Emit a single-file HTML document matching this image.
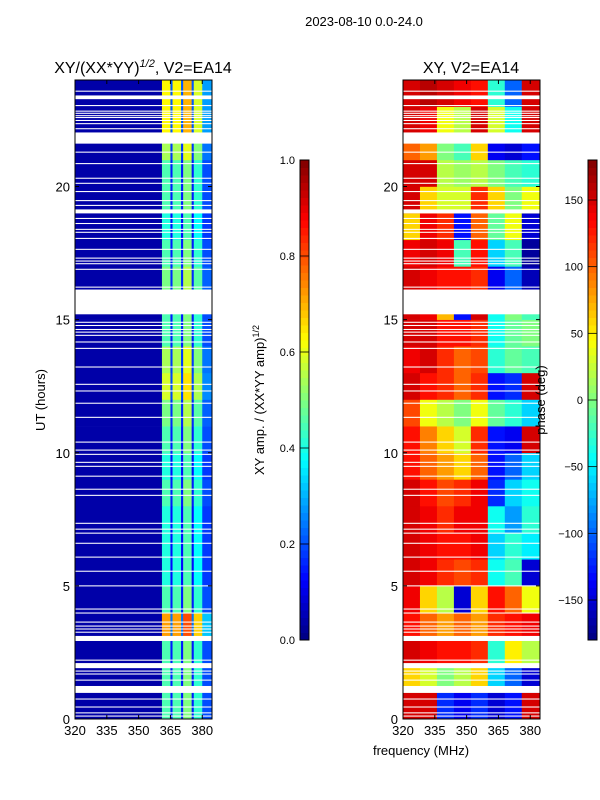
<!DOCTYPE html>
<html><head><meta charset="utf-8"><style>
body{margin:0;background:#fff}
svg{display:block;font-family:"Liberation Sans","DejaVu Sans",sans-serif}
</style></head><body>
<svg id="fig" width="600" height="800" viewBox="0 0 600 800">
<text x="364" y="26" font-size="13" text-anchor="middle">2023-08-10 0.0-24.0</text>
<text x="143" y="73" font-size="16" text-anchor="middle">XY/(XX*YY)<tspan dy="-6" font-size="11" font-style="italic">1/2</tspan><tspan dy="6">, V2=EA14</tspan></text>
<text x="471" y="73" font-size="16" text-anchor="middle">XY, V2=EA14</text>
<text transform="translate(45,400) rotate(-90)" font-size="13" text-anchor="middle">UT (hours)</text>
<text x="421" y="755" font-size="13" text-anchor="middle">frequency (MHz)</text>
<text transform="translate(264,400) rotate(-90)" font-size="13" text-anchor="middle">XY amp. / (XX*YY amp)<tspan dy="-5" font-size="9">1/2</tspan></text>
<g id="left"></g>
<g id="right"></g>
<g id="cb1"></g>
<g id="cb2"></g>
<text transform="translate(545,400) rotate(-90)" font-size="13" text-anchor="middle">phase (deg)</text>
</svg>
<script>
// ---- data ----
const freqTicks=[320,335,350,365,380];
const timeTicks=[0,5,10,15,20];
const ampTicks=[0.0,0.2,0.4,0.6,0.8,1.0];
const phaseTicks=[-150,-100,-50,0,50,100,150];
// amplitude bands [startMHz, endMHz, value]
const ampBands=[[320,361,0.04],[361,365,0.45],[365,366,0.15],[366,370,0.45],[370,371,0.15],[371,375,0.5],[375,376,0.15],[376,380,0.42],[380,385,0.2]];
// hourly gain on band amplitudes
const ampRowGain=[1.0,1.0,1.0,1.6,1.0,0.9,0.9,0.9,1.0,0.9,1.0,1.1,1.3,1.2,1.0,1.0,1.1,1.0,0.9,1.0,1.0,1.2,1.4,1.4];
// phase grid: 24 hours x 8 frequency columns (deg)
const phaseCols=[320,328,336,344,352,360,368,376,384.6];
const phaseVals=[
[150,150,-120,-140,-120,-150,-130,150],
[60,30,0,20,60,-60,-100,-150],
[150,140,130,130,120,-30,50,20],
[130,100,80,100,80,120,130,140],
[140,60,20,-150,60,130,100,40],
[150,140,120,110,120,-40,-20,-150],
[150,140,130,130,140,-60,-30,-50],
[150,140,120,140,140,-40,-80,-30],
[150,130,110,120,140,-120,-60,-40],
[130,100,80,60,100,-130,-100,-60],
[130,90,60,30,120,-130,-140,150],
[110,40,20,0,40,-10,-30,-60],
[150,130,120,100,120,-130,-120,150],
[140,150,120,100,110,-30,-10,-20],
[150,150,130,130,120,-40,-10,0],
[150,140,70,-130,150,-40,0,-20],
[150,140,130,130,120,-140,-100,-160],
[140,150,140,-20,130,-60,-20,-170],
[60,140,120,-130,100,-10,40,-150],
[150,60,30,30,120,60,0,40],
[150,150,20,10,20,0,-20,-30],
[100,80,0,-20,60,-140,-150,-130],
[150,140,40,20,150,30,-40,150],
[150,160,150,140,130,-30,-100,150]];
// blank (flagged) time intervals [startHr,endHr]
const gaps=[[0.09,0.13],[0.21,0.25],[0.43,0.47],[0.73,0.77],[0.98,1.24],[1.44,1.48],[1.67,1.71],[1.78,1.82],[1.91,2.1],[2.19,2.23],[2.93,3.12],[3.24,3.28],[3.36,3.4],[3.47,3.51],[3.62,3.66],[3.96,4.0],[4.11,4.15],[4.98,5.02],[5.53,5.57],[6.06,6.1],[6.58,6.62],[6.96,7.0],[7.11,7.15],[7.33,7.37],[8.38,8.42],[8.61,8.65],[9.1,9.14],[9.47,9.51],[9.62,9.66],[9.92,9.96],[10.08,10.12],[10.38,10.42],[11.31,11.35],[11.84,11.88],[12.3,12.34],[12.55,12.59],[13.2,13.24],[13.9,13.94],[14.14,14.18],[14.39,14.43],[14.51,14.55],[14.61,14.65],[14.76,14.8],[14.88,14.92],[15.2,16.13],[16.2,16.24],[16.87,16.91],[17.08,17.12],[17.18,17.22],[17.29,17.33],[17.62,17.66],[18.03,18.07],[18.26,18.3],[18.37,18.41],[18.59,18.63],[18.78,18.82],[18.99,19.14],[19.27,19.31],[19.45,19.49],[19.79,19.83],[20.1,20.14],[20.29,20.33],[20.84,20.88],[21.27,21.31],[21.61,22.03],[22.15,22.19],[22.34,22.38],[22.46,22.5],[22.57,22.61],[22.64,22.68],[22.73,22.77],[22.81,22.85],[23.02,23.06],[23.28,23.42],[23.56,23.6]];
// ---- helpers ----
const NS='http://www.w3.org/2000/svg';
function el(t,a,p){const e=document.createElementNS(NS,t);for(const k in a)e.setAttribute(k,a[k]);p.appendChild(e);return e;}
function jet(v){v=Math.max(0,Math.min(1,v));
 const r=Math.max(0,Math.min(1,1.5-Math.abs(4*v-3))),g=Math.max(0,Math.min(1,1.5-Math.abs(4*v-2))),b=Math.max(0,Math.min(1,1.5-Math.abs(4*v-1)));
 return `rgb(${Math.round(r*255)},${Math.round(g*255)},${Math.round(b*255)})`;}
const F0=320,F1=384.6,T0=0,T1=24,TOP=80,BOT=719;
function yT(t){return BOT-(t-T0)/(T1-T0)*(BOT-TOP);}
function makeX(L,R){return f=>L+(f-F0)/(F1-F0)*(R-L);}
function panel(g,L,R,fill){
 const x=makeX(L,R);
 fill(x);
 gaps.forEach(gp=>{const r=el('rect',{x:L,y:yT(gp[1]),width:R-L,height:yT(gp[0])-yT(gp[1]),fill:'#fff'},g);
  
  });
 el('rect',{x:L,y:TOP,width:R-L,height:BOT-TOP,fill:'none',stroke:'#000','stroke-width':1},g);
 freqTicks.forEach(f=>{const xx=x(f);
  el('line',{x1:xx,x2:xx,y1:BOT,y2:BOT-4,stroke:'#000'},g);
  el('line',{x1:xx,x2:xx,y1:TOP,y2:TOP+4,stroke:'#000'},g);
  const t=el('text',{x:xx,y:BOT+16,'font-size':13,'text-anchor':'middle'},g);t.textContent=f;
  
  });
 timeTicks.forEach(tv=>{const yy=yT(tv);
  el('line',{x1:L,x2:L+4,y1:yy,y2:yy,stroke:'#000'},g);
  el('line',{x1:R,x2:R-4,y1:yy,y2:yy,stroke:'#000'},g);
  const t=el('text',{x:L-5,y:yy+5,'font-size':13,'text-anchor':'end'},g);t.textContent=tv;
  
  });
}
// left panel
panel(document.getElementById('left'),75,212,x=>{
 const g=document.getElementById('left');
 for(let h=0;h<24;h++){
  ampBands.forEach(b=>{
   const v=b[2]<0.1?b[2]:b[2]*ampRowGain[h];
   const r=el('rect',{x:x(b[0]),y:yT(h+1),width:x(Math.min(b[1],F1))-x(b[0])+0.3,height:yT(h)-yT(h+1)+0.3,fill:jet(v)},g);
   
   
  });
 }
});
// right panel
panel(document.getElementById('right'),403,540,x=>{
 const g=document.getElementById('right');
 for(let h=0;h<24;h++)for(let c=0;c<8;c++){
  const r=el('rect',{x:x(phaseCols[c]),y:yT(h+1),width:x(phaseCols[c+1])-x(phaseCols[c])+0.3,height:yT(h)-yT(h+1)+0.3,fill:jet((phaseVals[h][c]+180)/360)},g);
  
  
 }
});
// colorbars
function colorbar(g,L,R,vmin,vmax,ticks,fmt){
 const T=160,B=640,n=64;
 for(let i=0;i<n;i++){el('rect',{x:L,y:B-(i+1)*(B-T)/n,width:R-L,height:(B-T)/n+0.5,fill:jet((i+0.5)/n)},g);}
 el('rect',{x:L,y:T,width:R-L,height:B-T,fill:'none',stroke:'#000'},g);
 ticks.forEach(v=>{const yy=B-(v-vmin)/(vmax-vmin)*(B-T);
  el('line',{x1:L,x2:R,y1:yy,y2:yy,stroke:'#000','stroke-width':0.8},g);
  const t=el('text',{x:L-5,y:yy+4,'font-size':11,'text-anchor':'end'},g);t.textContent=fmt(v);
  
  });
}
colorbar(document.getElementById('cb1'),300,309,0,1,ampTicks,v=>v.toFixed(1));
colorbar(document.getElementById('cb2'),588,597,-180,180,phaseTicks,v=>v<0?'\u2212'+(-v):String(v));
</script>
</body></html>
